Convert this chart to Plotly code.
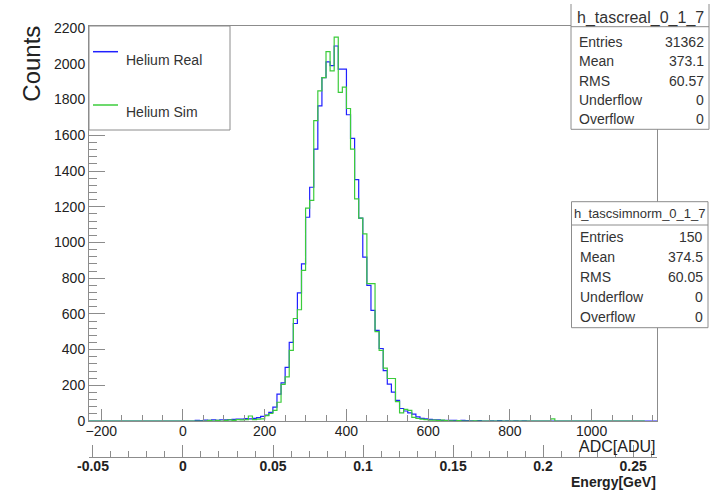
import numpy as np
import plotly.graph_objects as go

# ---------------- data ----------------
bin_width = 10
first_edge = -230
last_edge = 1160
sim_last_edge = 1130
core_start = 0  # ADC of first bin in the core lists

real_core = [0, 0, 0, 3, 2, 5, 3, 6, 4, 7,
             6, 8, 9, 11, 10, 13, 12, 15, 19, 26,
             33, 48, 78, 150, 214, 300, 440, 546, 718, 880,
             1141, 1309, 1523, 1765, 1923, 2011, 1990, 2100, 1970, 1970,
             1715, 1583, 1352, 1136, 918, 760, 620, 508, 406, 282,
             207, 162, 116, 70, 56, 46, 38, 23, 15, 12,
             9, 7, 6, 4, 3, 4, 3, 2, 3, 2]
sim_core = [0, 0, 0, 0, 0, 0, 4, 0, 3, 0,
            4, 6, 4, 8, 6, 8, 28, 8, 10, 12,
            30, 42, 60, 105, 205, 247, 395, 574, 623, 843,
            1192, 1235, 1682, 1849, 1923, 2069, 1961, 2150, 1840, 1870,
            1750, 1523, 1244, 1136, 1048, 769, 769, 500, 395, 296,
            238, 238, 108, 46, 65, 60, 20, 14, 10, 8,
            5, 5, 3, 5, 2, 1, 0, 2, 0, 0]
real_tail = {700: 1, 720: 2, 750: 1, 770: 2, 790: 1, 810: 1, 830: 1}
sim_tail = {710: 1, 900: 12}

adc_tickvals = [-200, 0, 200, 400, 600, 800, 1000]
energy_tickvals = [-0.05, 0, 0.05, 0.1, 0.15, 0.2, 0.25]
energy_ticktext = ["-0.05", "0", "0.05", "0.1", "0.15", "0.2", "0.25"]
adc_per_gev = 4406.0
y_tickvals = [0, 200, 400, 600, 800, 1000, 1200, 1400, 1600, 1800, 2000, 2200]

stats_real = [("Entries", "31362"), ("Mean", "373.1"), ("RMS", "60.57"),
              ("Underflow", "0"), ("Overflow", "0")]
stats_sim = [("Entries", "150"), ("Mean", "374.5"), ("RMS", "60.05"),
             ("Underflow", "0"), ("Overflow", "0")]


def build(core, tail, end_edge):
    edges = list(range(first_edge, end_edge + bin_width, bin_width))
    vals = []
    for lo in edges[:-1]:
        i = (lo - core_start) // bin_width
        if 0 <= i < len(core):
            vals.append(core[i])
        else:
            vals.append(tail.get(lo, 0))
    return edges, vals + [vals[-1]]


rx, ry = build(real_core, real_tail, last_edge)
sx, sy = build(sim_core, sim_tail, sim_last_edge)

# ---------------- geometry ----------------
W, H = 718, 490
L, R, T, B = 89, 61, 26, 33
plot_w = W - L - R
plot_h = H - T - B
y_axis_bottom_px = 421
ydom0 = (H - B - y_axis_bottom_px) / plot_h


def px(x):
    return (x - L) / plot_w


def py(y):
    return (H - B - y) / plot_h


AX = "#8c8c8c"
TXT = "#222222"
FONT = "Liberation Sans, Arial, Helvetica, sans-serif"
BLUE = "#2020ff"
GREEN = "#3ccc3c"

fig = go.Figure()
fig.add_trace(go.Scatter(x=rx, y=ry, mode="lines", line=dict(color=BLUE, width=1.2, shape="hv"),
                         showlegend=False, hoverinfo="skip"))
fig.add_trace(go.Scatter(x=sx, y=sy, mode="lines", line=dict(color=GREEN, width=1.2, shape="hv"),
                         showlegend=False, hoverinfo="skip"))
fig.add_trace(go.Scatter(x=[energy_tickvals[0]], y=[None], xaxis="x2", yaxis="y", mode="lines",
                         showlegend=False, hoverinfo="skip"))

fig.update_layout(
    width=W, height=H,
    margin=dict(l=L, r=R, t=T, b=B, pad=0),
    paper_bgcolor="white", plot_bgcolor="white",
    font=dict(family=FONT, color=TXT),
    showlegend=False,
    xaxis=dict(range=[first_edge, last_edge], domain=[0, 1], anchor="y",
               showline=True, linecolor=AX, linewidth=1, mirror=True,
               ticks="inside", ticklen=12, tickcolor=AX, tickwidth=1,
               tickvals=adc_tickvals, tickfont=dict(size=14, color=TXT, family=FONT),
               ticklabelstandoff=-3,
               showgrid=False, zeroline=False,
               minor=dict(ticks="inside", dtick=50, ticklen=6, tickcolor=AX, showgrid=False)),
    xaxis2=dict(range=[first_edge / adc_per_gev, last_edge / adc_per_gev], overlaying="x",
                anchor="free", position=0, side="bottom",
                showline=True, linecolor=AX, linewidth=1,
                ticks="inside", ticklen=12, tickcolor=AX,
                tickvals=energy_tickvals, ticktext=energy_ticktext,
                tickfont=dict(size=14, color=TXT, family=FONT, weight="bold"),
                ticklabelstandoff=-4,
                showgrid=False, zeroline=False,
                minor=dict(ticks="inside", dtick=0.01, ticklen=6, tickcolor=AX, showgrid=False)),
    yaxis=dict(range=[0, 2212], domain=[ydom0, 1], anchor="x",
               showline=True, linecolor=AX, linewidth=1, mirror=True,
               ticks="inside", ticklen=16, tickcolor=AX,
               tickvals=y_tickvals, tickfont=dict(size=14, color=TXT, family=FONT),
               showgrid=False, zeroline=False,
               minor=dict(ticks="inside", dtick=40, ticklen=8, tickcolor=AX, showgrid=False)),
)

shapes = []
annotations = []


def line(x0, y0, x1, y1, color=AX, width=1):
    shapes.append(dict(type="line", xref="paper", yref="paper", x0=px(x0), y0=py(y0), x1=px(x1), y1=py(y1),
                       line=dict(color=color, width=width), layer="above"))


def rect(x0, y0, x1, y1, border=True):
    shapes.append(dict(type="rect", xref="paper", yref="paper", x0=px(x0), y0=py(y0), x1=px(x1), y1=py(y1),
                       fillcolor="white", line=dict(color=AX, width=1 if border else 0), layer="above"))


def text(s, x, y, size=14, anchor="left", bold=False, angle=0, color="#333333", pad=1):
    annotations.append(dict(text=s, x=px(x), y=py(y), xref="paper", yref="paper", showarrow=False,
                            xanchor=anchor, yanchor="middle", textangle=angle, borderpad=pad,
                            font=dict(size=size, color=color, family=FONT, weight="bold" if bold else "normal")))


# legend
rect(89, 26, 230, 130)
line(93, 51.7, 118, 51.7, color=BLUE, width=1.5)
text("Helium Real", 124, 60)
line(93, 105, 118, 105, color=GREEN, width=1.5)
text("Helium Sim", 124, 111.7)

# stats box 1 (top border cut off)
rect(571, 4, 709, 129.3, border=False)
line(571, 4, 571, 129.3)
line(709, 4, 709, 129.3)
line(571, 129.3, 709, 129.3)
line(571, 26.7, 709, 26.7)
text("h_tascreal_0_1_7", 640, 18.5, size=16, anchor="center")
for (k, v), yy in zip(stats_real, [41.7, 61, 80.7, 100, 119.3]):
    text(k, 577, yy)
    text(v, 706, yy, anchor="right")

# stats box 2
rect(571.5, 201.7, 708, 327.7)
line(571.5, 225, 708, 225)
text("h_tascsimnorm_0_1_7", 640, 213.3, size=13, anchor="center")
for (k, v), yy in zip(stats_sim, [236.7, 256.7, 276.7, 296.7, 316.7]):
    text(k, 578, yy)
    text(v, 705, yy, anchor="right")

# axis titles
text("Counts", 31.7, 64, size=24, anchor="center", angle=-90, color=TXT)
text("ADC[ADU]", 657, 446, size=16, anchor="right", color=TXT)
text("Energy[GeV]", 657, 481.5, size=14, anchor="right", bold=True, color=TXT, pad=0)

fig.update_layout(shapes=shapes, annotations=annotations)
fig.write_html("out.html")
